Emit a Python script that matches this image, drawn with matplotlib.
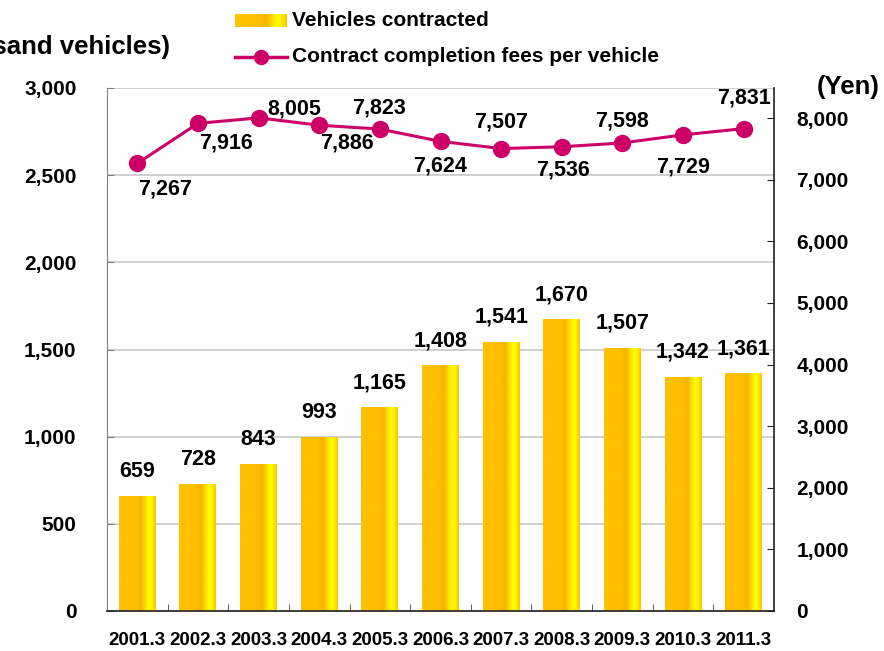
import numpy as np
import matplotlib.pyplot as plt
from matplotlib.colors import LinearSegmentedColormap
from matplotlib.lines import Line2D

plt.rcParams['font.family'] = ['Liberation Sans', 'DejaVu Sans']
plt.rcParams['font.weight'] = 'bold'

# 数据
years = ["2001.3", "2002.3", "2003.3", "2004.3", "2005.3", "2006.3",
         "2007.3", "2008.3", "2009.3", "2010.3", "2011.3"]
vehicles = [659, 728, 843, 993, 1165, 1408, 1541, 1670, 1507, 1342, 1361]
fees = [7267, 7916, 8005, 7886, 7823, 7624, 7507, 7536, 7598, 7729, 7831]

# 折线标签的偏移 (像素)
fee_dx = [28, 28, 36, 28, -1, 0, 0, 1, 0, 0, 0]
fee_dy = [-26, -20, 9, -18, 21, -25, 27, -23, 22, -32, 31]

line_color = "#CC0066"
bar_cmap = LinearSegmentedColormap.from_list(
    "bar", [(0.0, "#FFC000"), (0.45, "#FFC000"), (0.6, "#F7B400"),
            (0.82, "#FFFF00"), (0.9, "#FFF000"), (1.0, "#FFC000")])
grad = np.linspace(0, 1, 256).reshape(1, -1)

fig = plt.figure(figsize=(8.84, 6.51), dpi=100)
ax = fig.add_axes([107 / 884, 40 / 651, 667 / 884, 523 / 651])
ax2 = ax.twinx()

x = np.arange(len(years))
w = 0.61

# 渐变柱形
for xi, v in zip(x, vehicles):
    ax.imshow(grad, cmap=bar_cmap, aspect="auto", interpolation="bilinear",
              extent=[xi - w / 2, xi + w / 2, 0, v], zorder=2)
    ax.annotate(f"{v:,}", (xi, v), xytext=(0, 25), textcoords="offset pixels",
                ha="center", va="center", fontsize=15.5, fontweight="bold")

ax.set_xlim(-0.5, len(years) - 0.5)
ax.set_ylim(0, 3000)
ax.set_yticks(np.arange(0, 3001, 500))
ax.set_yticklabels([f"{t:,}" for t in range(0, 3001, 500)], fontsize=15, fontweight="bold")
ax.grid(axis="y", color="#C8C8C8", linewidth=1.2, zorder=0)
ax.set_axisbelow(True)
ax.tick_params(axis="y", direction="in", length=5, color="#808080", pad=22)
ax.set_xticks(x)
ax.set_xticklabels(years, fontsize=13.5, fontweight="bold")
ax.tick_params(axis="x", which="major", length=0, pad=15)
ax.set_xticks(np.arange(0.5, len(years) - 1, 1), minor=True)
ax.tick_params(axis="x", which="minor", direction="in", length=5, color="#404040")
ax.spines["left"].set_color("#808080")
ax.spines["top"].set_visible(False)
ax.spines["right"].set_visible(False)
ax.spines["bottom"].set_color("#202020")
ax.spines["bottom"].set_linewidth(1.2)

# 折线
ax2.plot(x, fees, color=line_color, linewidth=2.2, marker="o", markersize=11.5, zorder=5)
for xi, v, dx, dy in zip(x, fees, fee_dx, fee_dy):
    ax2.annotate(f"{v:,}", (xi, v), xytext=(dx, dy), textcoords="offset pixels",
                 ha="center", va="center", fontsize=15.5, fontweight="bold")

ax2.set_ylim(0, 8490)
ax2.set_yticks(np.arange(0, 8001, 1000))
ax2.set_yticklabels([f"{t:,}" for t in range(0, 8001, 1000)], fontsize=15, fontweight="bold")
ax2.tick_params(axis="y", direction="in", length=5, color="#202020", pad=16)
ax2.spines["right"].set_color("#202020")
ax2.spines["right"].set_linewidth(1.2)
ax2.spines["top"].set_visible(False)
ax2.spines["left"].set_visible(False)
ax2.spines["bottom"].set_visible(False)

# 坐标轴单位
fig.text(170 / 884, 1 - 47 / 651, "(Thousand vehicles)", ha="right", va="center",
         fontsize=18.5, fontweight="bold")
fig.text(848 / 884, 1 - 87 / 651, "(Yen)", ha="center", va="center",
         fontsize=18.5, fontweight="bold")

# 图例
lax = fig.add_axes([235 / 884, 1 - 27 / 651, 52 / 884, 13 / 651])
lax.imshow(grad, cmap=bar_cmap, aspect="auto", interpolation="bilinear")
lax.axis("off")
fig.text(292 / 884, 1 - 20 / 651, "Vehicles contracted", ha="left", va="center",
         fontsize=15, fontweight="bold")
fig.add_artist(Line2D([235 / 884, 287 / 884], [1 - 57 / 651, 1 - 57 / 651],
                      color=line_color, linewidth=2.5))
fig.add_artist(Line2D([261 / 884], [1 - 57 / 651], color=line_color,
                      marker="o", markersize=10))
fig.text(292 / 884, 1 - 57 / 651, "Contract completion fees per vehicle", ha="left",
         va="center", fontsize=15, fontweight="bold")

fig.savefig("out.png", dpi=100)
